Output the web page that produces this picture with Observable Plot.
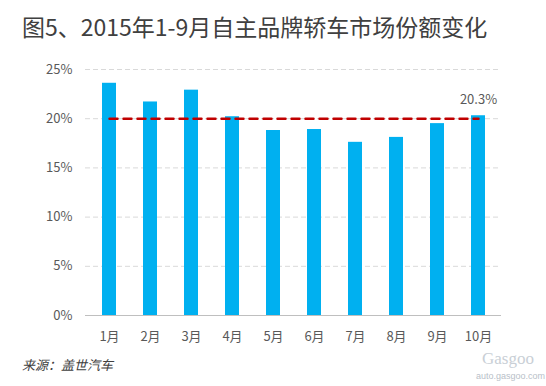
<!DOCTYPE html>
<html><head><meta charset="utf-8">
<script src="https://cdn.jsdelivr.net/npm/d3@7"></script>
<script src="https://cdn.jsdelivr.net/npm/@observablehq/plot@0.6"></script>
<style>
body{margin:0;background:#fff;}
#wrap{position:relative;width:546px;height:386px;overflow:hidden;font-family:"Noto Sans CJK SC","Noto Sans",sans-serif;background:#fff;}
#title{position:absolute;left:22px;top:15px;font-size:23px;color:#404040;white-space:nowrap;line-height:1;}
#chart{position:absolute;left:0;top:50px;}
#src{position:absolute;left:22px;top:358px;font-size:13px;font-style:italic;color:#404040;line-height:1;}
#wm1{position:absolute;left:482px;top:350px;font-family:"Liberation Serif",serif;font-size:17px;color:#c9cfd6;line-height:1;}
#wm2{position:absolute;left:476px;top:372px;font-family:"Liberation Sans",sans-serif;font-size:9px;color:#b8c0c8;line-height:1;white-space:nowrap;}
</style></head>
<body><div id="wrap">
<div id="title">图5、2015年1-9月自主品牌轿车市场份额变化</div>
<div id="chart"></div>
<div id="src">来源：盖世汽车</div>
<div id="wm1">Gasgoo</div>
<div id="wm2">auto.gasgoo.com</div>
</div>
<script>
const months = ["1月","2月","3月","4月","5月","6月","7月","8月","9月","10月"];
const shares = [23.6, 21.7, 22.9, 20.2, 18.8, 18.9, 17.6, 18.1, 19.5, 20.3];
const benchmark = 20;
const yTicks = [0, 5, 10, 15, 20, 25];
const labelMonth = "10月";
const labelText = "20.3%";

const data = months.map((m, i) => ({month: m, share: shares[i]}));

const chart = Plot.plot({
  width: 546,
  height: 300,
  marginLeft: 85,
  marginRight: 45,
  marginTop: 19,
  marginBottom: 35,
  style: {fontFamily: '"Noto Sans CJK SC","Noto Sans",sans-serif', fontSize: "13px", color: "#595959", background: "#fff"},
  x: {domain: months, paddingInner: 0.66, paddingOuter: 0.335, label: null, tickSize: 0, tickPadding: 16},
  y: {domain: [0, 25], ticks: yTicks, tickFormat: d => d + "%", label: null, tickSize: 0, tickPadding: 13},
  marks: [
    Plot.gridY(yTicks.filter(d => d > 0), {stroke: "#d9d9d9", strokeOpacity: 1, strokeDasharray: "5,3"}),
    Plot.ruleY([0], {stroke: "#bfbfbf"}),
    Plot.barY(data, {x: "month", y: "share", fill: "#00b0f0"}),
    Plot.lineY(data, {x: "month", y: () => benchmark, stroke: "#c00000", strokeWidth: 2.5, strokeDasharray: "8,6"}),
    Plot.text([{month: labelMonth, share: shares[months.indexOf(labelMonth)]}], {x: "month", y: "share", text: () => labelText, dy: -16, fill: "#595959", fontSize: 13})
  ]
});
document.getElementById("chart").appendChild(chart);
</script>
</body></html>
